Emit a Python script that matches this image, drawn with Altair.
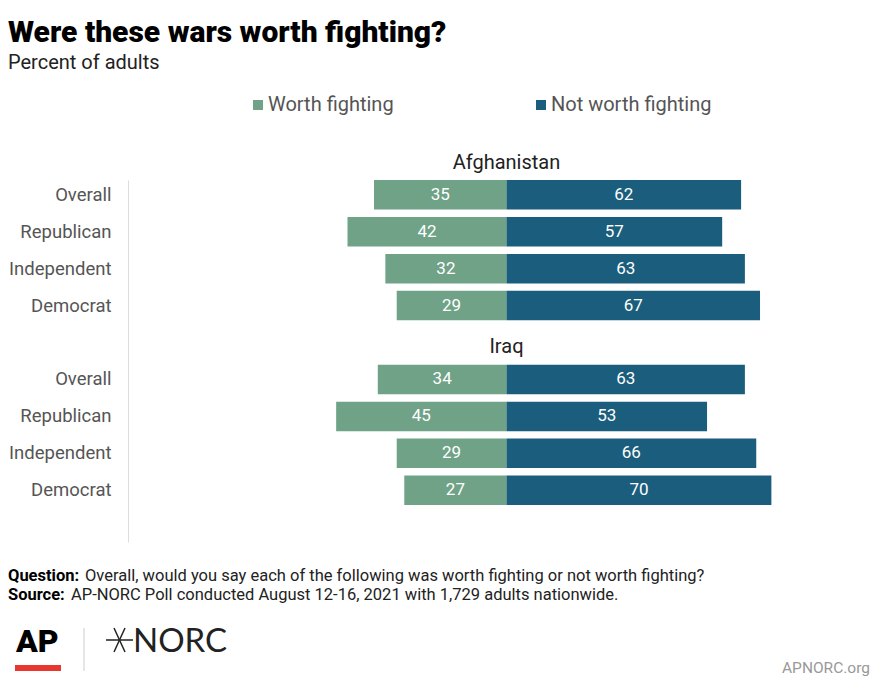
import altair as alt
import pandas as pd

wars = ["Afghanistan", "Iraq"]
groups = ["Overall", "Republican", "Independent", "Democrat"]
worth = {"Afghanistan": [35, 42, 32, 29], "Iraq": [34, 45, 29, 27]}
not_worth = {"Afghanistan": [62, 57, 63, 67], "Iraq": [63, 53, 66, 70]}
responses = ["Worth fighting", "Not worth fighting"]
colors = ["#6fa287", "#1a5d7c"]

rows = []
for w in wars:
    for g, a, b in zip(groups, worth[w], not_worth[w]):
        key = f"{w}|{g}"
        rows.append({"war": w, "group": g, "key": key, "response": responses[0],
                     "value": a, "start": -a, "end": 0})
        rows.append({"war": w, "group": g, "key": key, "response": responses[1],
                     "value": b, "start": 0, "end": b})
df = pd.DataFrame(rows)
df["mid"] = (df["start"] + df["end"]) / 2

# y slots: 4 rows per war, a gap slot after each war
y_domain = []
for i, w in enumerate(wars):
    y_domain += [f"{w}|{g}" for g in groups]
    y_domain.append(f"gap{i}")

heads = pd.DataFrame({"war": wars, "key": [f"{w}|Overall" for w in wars], "x": [0, 0]})

FONT = "Roboto"
W, H = 738, 362

xs = alt.Scale(domain=[-100, 95])
ys = alt.Scale(domain=y_domain, paddingInner=0.2, paddingOuter=0)

bars = alt.Chart(df).mark_bar().encode(
    x=alt.X("start:Q", scale=xs, axis=None),
    x2="end:Q",
    y=alt.Y("key:N", scale=ys, title=None,
            axis=alt.Axis(labelExpr="indexof(datum.label,'|')>=0 ? split(datum.label,'|')[1] : ''",
                          ticks=False, domain=True, domainColor="#dddddd", domainWidth=1,
                          labelPadding=17, labelFontSize=18.5, labelColor="#555555",
                          labelFont=FONT, grid=False)),
    color=alt.Color("response:N", scale=alt.Scale(domain=responses, range=colors),
                    legend=alt.Legend(title=None, orient="none", legendX=120, legendY=-85,
                                      direction="horizontal", symbolType="square",
                                      symbolSize=100, symbolStrokeWidth=0, labelFontSize=20,
                                      labelFont=FONT, labelColor="#555555", labelOffset=0,
                                      labelLimit=400, columnPadding=137, symbolOpacity=1)),
)

labels = alt.Chart(df).mark_text(color="white", fontSize=17, font=FONT, baseline="middle").encode(
    x=alt.X("mid:Q", scale=xs), y=alt.Y("key:N", scale=ys), text="value:Q")

headers = alt.Chart(heads).mark_text(color="#222222", fontSize=20, font=FONT, baseline="middle", dy=-32).encode(
    x=alt.X("x:Q", scale=xs), y=alt.Y("key:N", scale=ys), text="war:N")

one = pd.DataFrame({"a": [0]})
L = -120  # page x 8 relative to plot left

def txt(text, x, y, size=16.5, weight="normal", color="#222222", align="left", font=FONT, baseline="alphabetic"):
    return alt.Chart(one).mark_text(fontSize=size, fontWeight=weight, color=color, align=align,
                                    font=font, baseline=baseline).encode(
        x=alt.value(x), y=alt.value(y), text=alt.value(text))

def rule(x, x2, y, y2, color, width):
    return alt.Chart(one).mark_rule(color=color, strokeWidth=width).encode(
        x=alt.value(x), x2=alt.value(x2), y=alt.value(y), y2=alt.value(y2))

footer = [
    txt("Question:", L, 401, weight="bold", color="#000000"),
    txt("Overall, would you say each of the following was worth fighting or not worth fighting?", L + 77, 401),
    txt("Source:", L, 420, weight="bold", color="#000000"),
    txt("AP-NORC Poll conducted August 12-16, 2021 with 1,729 adults nationwide.", L + 63, 420),
    txt("AP", L + 8, 472, size=32, weight=900, color="#000000"),
    rule(L + 7, L + 53, 488, 488, "#e8372f", 6),
    rule(L + 76, L + 76, 448, 491, "#cccccc", 1),
    rule(L + 98, L + 125, 460, 460, "#222222", 1.5),
    rule(L + 106, L + 117, 448, 472, "#222222", 1.5),
    rule(L + 117, L + 106, 448, 472, "#222222", 1.5),
    txt("NORC", L + 125, 472, size=33, font="Lato", color="#222222"),
    txt("APNORC.org", W + 4, 493, size=15.5, color="#999999", align="right"),
]

chart = alt.layer(bars, labels, headers, *footer).properties(
    width=W, height=H,
    padding={"top": 10, "left": 0, "right": 0, "bottom": 0},
    title=alt.TitleParams(text="Were these wars worth fighting?",
                          subtitle="Percent of adults",
                          anchor="start", frame="bounds", font=FONT, fontSize=30,
                          fontWeight=900, color="#000000",
                          subtitleFont=FONT, subtitleFontSize=20, subtitleColor="#222222",
                          subtitlePadding=5, offset=22),
).configure_view(stroke=None)

chart.save("out.html", embed_options={"renderer": "svg", "actions": False})
